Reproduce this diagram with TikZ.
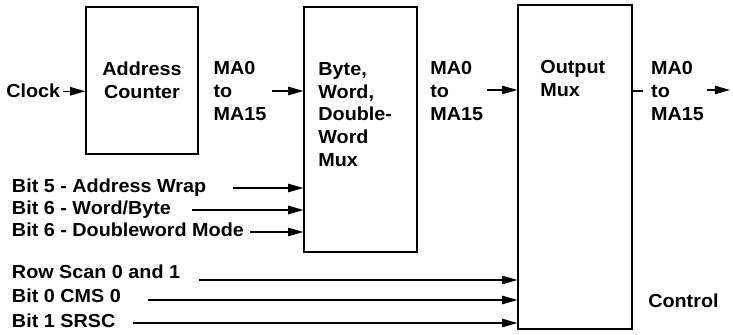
\documentclass[tikz,border=0pt]{standalone}
\usepackage{fontspec}
\setmainfont{Liberation Sans}[FakeStretch=1.05]
\usepackage{tikz}
\usetikzlibrary{arrows.meta,positioning}

\begin{document}
\begin{tikzpicture}[
    block/.style={rectangle, draw, line width=0.9pt, inner sep=1.5pt, font=\fontsize{13.4}{16.3}\selectfont\bfseries},
    txt/.style={inner sep=1.5pt, font=\fontsize{13.4}{16.3}\selectfont\bfseries, align=left},
    arr/.style={-{Triangle[length=3.8mm, width=2.1mm]}, line width=1pt},
    wire/.style={line width=1pt}
]
  \useasboundingbox (0,0) rectangle (18.325,8.375);

  % the three blocks
  \node[block, minimum width=2.8cm, minimum height=3.675cm, align=center] (counter) at (3.55,6.3625) {Address\\Counter};
  \node[block, minimum width=2.825cm, minimum height=6.125cm] (bytemux) at (9.0125,5.1375) {};
  \node[block, minimum width=2.85cm, minimum height=8.1cm] (outmux) at (14.375,4.2) {};

  \node[txt, anchor=north west] (bytetxt) at (7.90,6.88) {Byte,\\Word,\\Double-\\Word\\Mux};
  \node[txt, anchor=north west] (outtxt) at (13.45,6.93) {Output\\Mux};

  % address bus labels
  \node[txt, anchor=north west] (ma1) at (5.28,6.89) {MA0\\to\\MA15};
  \node[txt, anchor=north west] (ma2) at (10.70,6.89) {MA0\\to\\MA15};
  \node[txt, anchor=north west] (ma3) at (16.22,6.89) {MA0\\to\\MA15};

  % inputs
  \node[txt, anchor=base west] (clock) at (0.097,5.925) {Clock};
  \node[txt, anchor=base west] (wrap) at (0.24,3.55) {Bit 5 - Address Wrap};
  \node[txt, anchor=base west] (wordbyte) at (0.24,3.0) {Bit 6 - Word/Byte};
  \node[txt, anchor=base west] (dword) at (0.24,2.4625) {Bit 6 - Doubleword Mode};
  \node[txt, anchor=base west] (rowscan) at (0.24,1.4) {Row Scan 0 and 1};
  \node[txt, anchor=base west] (cms) at (0.24,0.8) {Bit 0 CMS 0};
  \node[txt, anchor=base west] (srsc) at (0.24,0.175) {Bit 1 SRSC};
  \node[txt, anchor=base west] (control) at (16.147,0.675) {Control};

  \coordinate (m1) at (6.8,6.1);
  \coordinate (m2) at (12.175,6.125);
  \coordinate (tick) at (16.075,6.1);
  \coordinate (m3) at (17.675,6.125);
  \coordinate (m3end) at (18.25,6.125);
  \coordinate (in5) at (5.825,3.675);
  \coordinate (in6w) at (4.8,3.125);
  \coordinate (in6d) at (6.25,2.575);
  \coordinate (inrs) at (4.975,1.375);
  \coordinate (incms) at (3.7,0.875);
  \coordinate (insr) at (3.325,0.3);

  \draw[arr] (clock.east) -- (clock.east -| counter.west);
  \draw[arr] (m1) -- (m1 -| bytemux.west);
  \draw[arr] (m2) -- (m2 -| outmux.west);
  \draw[wire] (tick -| outmux.east) -- (tick);
  \draw[arr] (m3) -- (m3end);

  \draw[arr] (in5) -- (in5 -| bytemux.west);
  \draw[arr] (in6w) -- (in6w -| bytemux.west);
  \draw[arr] (in6d) -- (in6d -| bytemux.west);
  \draw[arr] (inrs) -- (inrs -| outmux.west);
  \draw[arr] (incms) -- (incms -| outmux.west);
  \draw[arr] (insr) -- (insr -| outmux.west);
\end{tikzpicture}
\end{document}
